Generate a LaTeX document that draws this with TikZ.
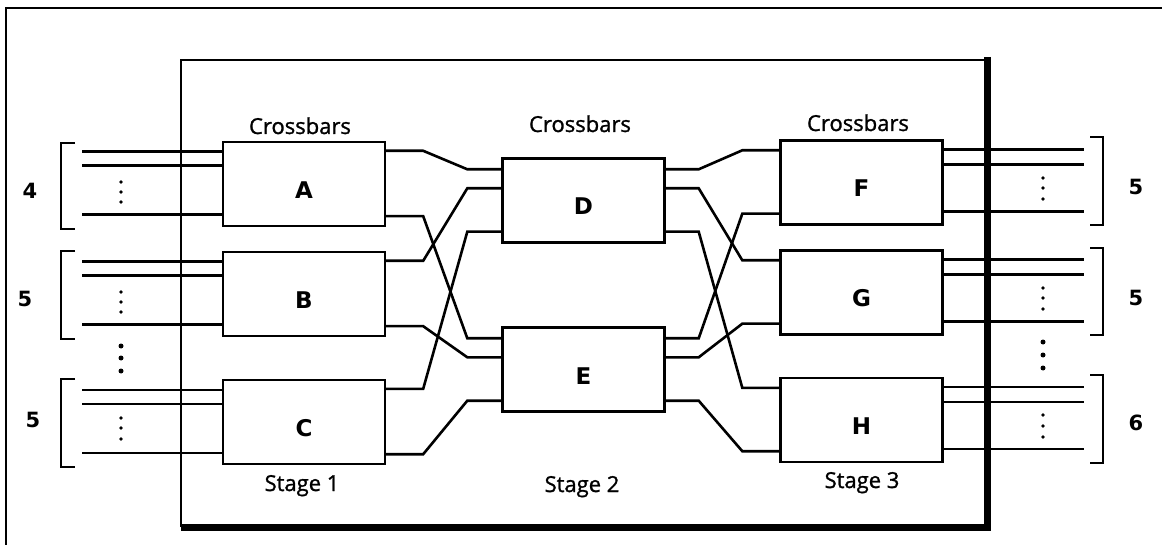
\documentclass[tikz,border=0pt]{standalone}
\usepackage{fontspec}
\setmainfont{Liberation Sans}
\newfontfamily\captfont[FakeBold=1.2]{Open Sans}
\newfontfamily\markfont{DejaVu Sans}
\usepackage{tikz}

\begin{document}
\begin{tikzpicture}[x=1pt,y=-1pt,line width=2.6pt]
\tikzstyle{every node}+=[inner sep=0pt]
\tikzstyle{xbar}=[draw,line width=2.4pt,minimum width=162pt,minimum height=84pt,text height=29pt,text depth=0pt,font=\markfont\bfseries\fontsize{23}{23}\selectfont]
\tikzstyle{capt}=[anchor=base,font=\captfont\fontsize{22}{22}\selectfont]
\tikzstyle{count}=[font=\markfont\bfseries\fontsize{21}{21}\selectfont]
\tikzstyle{bracket}=[line width=1.5pt]
\useasboundingbox (0,0) rectangle (1162,545);
% frames
\draw [line width=1.5pt] (1162,8) -- (6,8) -- (6,545);
\draw (181,527) -- (181,60) -- (987,60);
\draw [line width=7pt] (987,57) -- (987,527) -- (181,527);
% crossbars
\node [xbar] (A) at (304,184) {A};
\node [xbar] (B) at (304,294) {B};
\node [xbar] (C) at (304,422) {C};
\node [xbar] (D) at (583.5,200.5) {D};
\node [xbar] (E) at (583.5,369.5) {E};
\node [xbar] (F) at (861.5,182.5) {F};
\node [xbar] (G) at (861.5,292.5) {G};
\node [xbar] (H) at (861.5,420) {H};
\node [capt] (cb1) at (300,134) {Crossbars};
\node [capt] (cb2) at (580,132) {Crossbars};
\node [capt] (cb3) at (858,131) {Crossbars};
\node [capt] (st1) at (302,491) {Stage 1};
\node [capt] (st2) at (582,492) {Stage 2};
\node [capt] (st3) at (862,488) {Stage 3};
% ports
\foreach \n in {A,B,C} {
  \coordinate (\n-o1) at ([yshift=-10pt]\n.north east);
  \coordinate (\n-o2) at ([yshift=11pt]\n.south east);
}
\foreach \n in {D,E} {
  \coordinate (\n-i1) at ([yshift=-12pt]\n.north west);
  \coordinate (\n-i2) at ([yshift=-31pt]\n.north west);
  \coordinate (\n-i3) at ([yshift=12pt]\n.south west);
  \coordinate (\n-o1) at ([yshift=-12pt]\n.north east);
  \coordinate (\n-o2) at ([yshift=-31pt]\n.north east);
  \coordinate (\n-o3) at ([yshift=12pt]\n.south east);
}
\foreach \n in {F,G,H} {
  \coordinate (\n-i1) at ([yshift=-11pt]\n.north west);
  \coordinate (\n-i2) at ([yshift=12pt]\n.south west);
}
% links between stages
\foreach \s/\t in {A-o1/D-i1,B-o1/D-i2,C-o1/D-i3,A-o2/E-i1,B-o2/E-i2,C-o2/E-i3}
  \draw (\s) -- ++(37,0) -- ([xshift=-34pt]\t) -- (\t);
\foreach \s/\t in {D-o1/F-i1,D-o2/G-i1,D-o3/H-i1,E-o1/F-i2,E-o2/G-i2,E-o3/H-i2}
  \draw (\s) -- ++(33,0) -- ([xshift=-37pt]\t) -- (\t);
% outside lines
\foreach \n in {A,B,C}
  \foreach \d in {11,25,74}
    \draw ([yshift=-\d pt]\n.north west) -- ++(-140,0);
\foreach \n in {F,G,H}
  \foreach \d in {10,25,72}
    \draw ([yshift=-\d pt]\n.north east) -- ++(140,0);
% brackets
\foreach \t/\b in {143/229,251/339,379/467}
  \draw [bracket] (75,\t) -| (61,\b) -- (75,\b);
\foreach \t/\b in {137/225,248/335,375/463}
  \draw [bracket] (1090,\t) -| (1103,\b) -- (1090,\b);
\node [count] (nA) at (30,191) {4};
\node [count] (nB) at (25,299) {5};
\node [count] (nC) at (33,420) {5};
\node [count] (nF) at (1136,187) {5};
\node [count] (nG) at (1136,298) {5};
\node [count] (nH) at (1136,423) {6};
% dots
\foreach \y in {182,192,202,292,302,312,418,428,439}
  \fill (121,\y) circle (1.9);
\foreach \y in {346,358,371}
  \fill (121,\y) circle (2.5);
\foreach \y in {178,188,199,288,298,309,415,426,437}
  \fill (1043,\y) circle (1.9);
\foreach \y in {342,355,368}
  \fill (1043,\y) circle (2.5);
\end{tikzpicture}
\end{document}
